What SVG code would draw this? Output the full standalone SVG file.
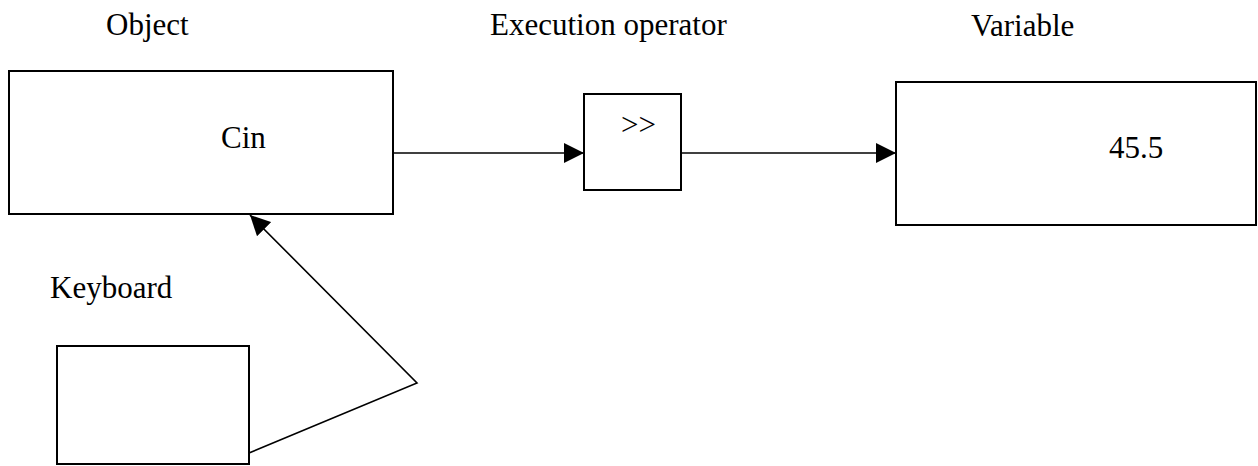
<svg xmlns="http://www.w3.org/2000/svg" width="1258" height="466" viewBox="0 0 1258 466">
<style>
.box{fill:#fff;stroke:#000;stroke-width:2}
.lbl{font-family:'Liberation Serif','DejaVu Serif',serif;font-size:31px;fill:#000}
.con{fill:none;stroke:#000;stroke-width:1.6}
</style>
<defs>
<marker id="arr" markerUnits="userSpaceOnUse" markerWidth="20" markerHeight="20" refX="20" refY="10" orient="auto">
<path d="M0,0 L20,10 L0,20 z" fill="#000"/>
</marker>
</defs>
<rect width="1258" height="466" fill="#fff"/>
<g id="labels" font-family="Liberation Serif, DejaVu Serif, serif">
<text class="lbl" x="106" y="35">Object</text>
<text class="lbl" x="490" y="35">Execution operator</text>
<text class="lbl" x="971" y="36">Variable</text>
<text class="lbl" x="50" y="298">Keyboard</text>
</g>
<g id="node-object" font-family="Liberation Serif, DejaVu Serif, serif">
<rect class="box" x="9" y="71" width="384" height="143"/>
<text class="lbl" x="221" y="148">Cin</text>
</g>
<g id="node-operator" font-family="Liberation Serif, DejaVu Serif, serif">
<rect class="box" x="584" y="94" width="97" height="96"/>
<text class="lbl" x="621" y="135">&gt;&gt;</text>
</g>
<g id="node-variable" font-family="Liberation Serif, DejaVu Serif, serif">
<rect class="box" x="896" y="82" width="360" height="143"/>
<text class="lbl" x="1109" y="158">45.5</text>
</g>
<g id="node-keyboard">
<rect class="box" x="57" y="346" width="192" height="118"/>
</g>
<g id="connectors">
<line class="con" x1="394" y1="153" x2="584" y2="153" marker-end="url(#arr)"/>
<line class="con" x1="682" y1="153" x2="896" y2="153" marker-end="url(#arr)"/>
<polyline class="con" points="249,453 417,383 250,215" marker-end="url(#arr)"/>
</g>
</svg>
